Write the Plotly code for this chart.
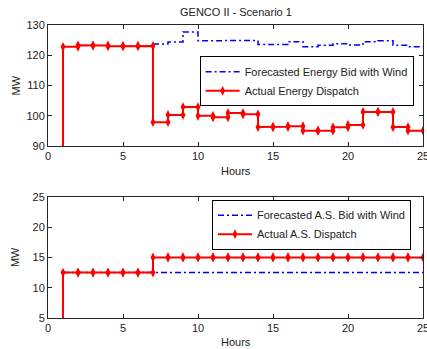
import plotly.graph_objects as go

# ---------------- data ----------------
end_hour = 25

# Top panel: energy (MW), values hold from each start hour to the next
energy_actual_hours = list(range(0, 25))
energy_actual = [0, 122.8, 123.3, 123.2, 123.0, 123.0, 123.1, 97.9, 100.3, 102.9,
                 100.0, 99.5, 100.9, 100.5, 96.3, 96.4, 96.6, 95.1, 95.1, 96.2,
                 97.0, 101.3, 101.3, 96.3, 95.1]
energy_bid_hours = list(range(7, 25))
energy_bid = [123.7, 124.4, 127.7, 124.8, 124.8, 125.0, 124.9, 123.6, 123.6,
              124.5, 122.8, 123.3, 123.8, 123.4, 124.5, 124.8, 123.3, 122.8]

# Bottom panel: ancillary services (MW)
as_actual_hours = list(range(0, 25))
as_actual = [0] + [12.5] * 6 + [15.0] * 18
as_bid_hours = list(range(1, 25))
as_bid = [12.5] * 24

x_ticks = [0, 5, 10, 15, 20, 25]
top_ticks = [90, 100, 110, 120, 130]
bot_ticks = [5, 10, 15, 20, 25]


def stairs(xs, ys, end):
    px, py = [], []
    for i, (x, y) in enumerate(zip(xs, ys)):
        nx = xs[i + 1] if i + 1 < len(xs) else end
        px += [x, nx]
        py += [y, y]
    return px, py


FONT = "Liberation Sans, Arial, Helvetica, sans-serif"
BLUE = "#0000FF"
RED = "#FF0000"
AXC = "#262626"
TXT = "#222"

fig = go.Figure()

bx, by = stairs(energy_bid_hours, energy_bid, end_hour)
fig.add_trace(go.Scatter(x=bx, y=by, mode="lines", name="Forecasted Energy Bid with Wind",
                         line=dict(color=BLUE, width=1.5, dash="6px,3px,2px,3px"),
                         xaxis="x", yaxis="y", legend="legend"))
rx, ry = stairs(energy_actual_hours, energy_actual, end_hour)
fig.add_trace(go.Scatter(x=rx, y=ry, mode="lines+markers", name="Actual Energy Dispatch",
                         line=dict(color=RED, width=2),
                         marker=dict(symbol="diamond-tall", size=7, color=RED),
                         xaxis="x", yaxis="y", legend="legend"))

bx2, by2 = stairs(as_bid_hours, as_bid, end_hour)
fig.add_trace(go.Scatter(x=bx2, y=by2, mode="lines", name="Forecasted A.S. Bid with Wind",
                         line=dict(color=BLUE, width=1.5, dash="6px,3px,2px,3px"),
                         xaxis="x2", yaxis="y2", legend="legend2"))
rx2, ry2 = stairs(as_actual_hours, as_actual, end_hour)
fig.add_trace(go.Scatter(x=rx2, y=ry2, mode="lines+markers", name="Actual A.S. Dispatch",
                         line=dict(color=RED, width=2),
                         marker=dict(symbol="diamond-tall", size=7, color=RED),
                         xaxis="x2", yaxis="y2", legend="legend2"))

axis_common = dict(showline=True, linecolor=AXC, linewidth=1, mirror="ticks",
                   ticks="inside", ticklen=4, tickcolor=AXC, showgrid=False,
                   zeroline=False, automargin=False, ticklabeloverflow="allow",
                   tickfont=dict(family=FONT, size=11, color=TXT))

leg_common = dict(xanchor="right", yanchor="top", bgcolor="white", bordercolor="#000",
                  borderwidth=1, itemwidth=34, tracegroupgap=0,
                  font=dict(family=FONT, size=11, color=TXT))


def label(text, x, y, angle=0):
    return dict(text=text, x=x, y=y, xref="paper", yref="paper", xanchor="center",
                yanchor="middle", textangle=angle, showarrow=False,
                font=dict(family=FONT, size=11, color=TXT))


fig.update_layout(
    width=427, height=349,
    margin=dict(l=48, r=4, t=25, b=31),
    paper_bgcolor="white", plot_bgcolor="white",
    font=dict(family=FONT, size=11, color=TXT),
    xaxis=dict(domain=[0, 1], range=[0, 25], tickvals=x_ticks, anchor="y", **axis_common),
    yaxis=dict(domain=[0.5866, 1], range=[90, 130], tickvals=top_ticks, anchor="x", **axis_common),
    xaxis2=dict(domain=[0, 1], range=[0, 25], tickvals=x_ticks, anchor="y2", **axis_common),
    yaxis2=dict(domain=[0, 0.4134], range=[5, 25], tickvals=bot_ticks, anchor="x2", **axis_common),
    legend=dict(x=0.975, y=0.893, **leg_common),
    legend2=dict(x=0.968, y=0.404, **leg_common),
    showlegend=True,
    annotations=[
        label("GENCO II - Scenario 1", 0.5, 1.045),
        label("MW", -0.086, 0.793, -90),
        label("MW", -0.086, 0.207, -90),
        label("Hours", 0.5, 0.5027),
        label("Hours", 0.5, -0.082),
    ],
)

fig.write_html("out.html")
